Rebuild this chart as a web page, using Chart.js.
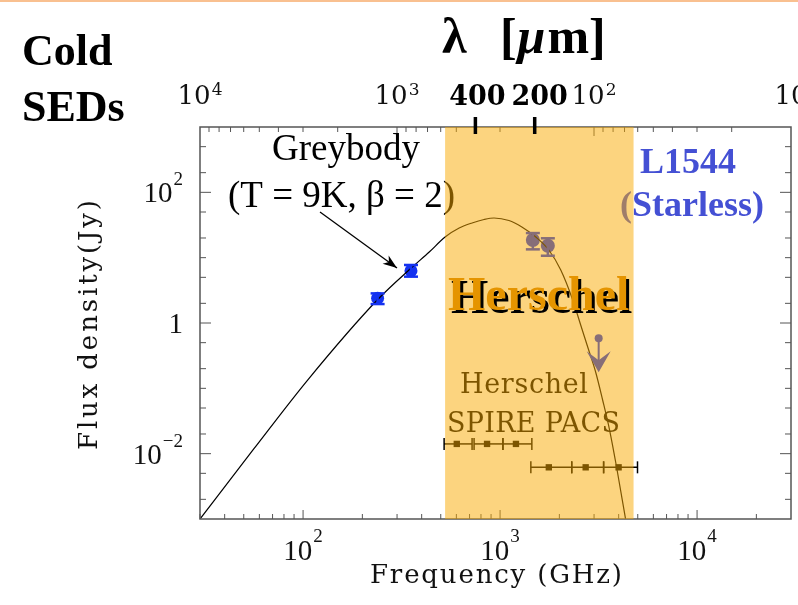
<!DOCTYPE html>
<html>
<head>
<meta charset="utf-8">
<script src="https://cdn.jsdelivr.net/npm/chart.js@4.4.0/dist/chart.umd.min.js"></script>
<style>
  html, body { margin: 0; padding: 0; background: #fff; }
  #wrap { width: 798px; height: 605px; }
</style>
</head>
<body>
<div id="wrap"><canvas id="sed" width="798" height="605"></canvas></div>
<script>
// greybody (T = 9 K, beta = 2)
const curveFreq = [30.0, 56.2, 105.5, 238, 354, 437, 526, 620, 721, 829, 932, 1109, 1290, 1519, 1768, 2033, 2338, 2566, 2817, 3056, 3316, 3597, 3903, 4335, 4560];
const curveFlux = [0.001, 0.0118, 0.134, 2.25, 6.95, 12.2, 20.7, 28.4, 34.0, 38.4, 40.5, 37.0, 29.5, 20.7, 13.1, 6.47, 2.25, 0.931, 0.386, 0.178, 0.0663, 0.023, 0.00625, 0.001, 0.0004];

// L1544 photometry (GHz, Jy)
const groundFreq = [239, 353];
const groundFlux = [2.39, 6.31];
const groundLow = [1.95, 5.12];
const groundHigh = [2.84, 7.73];

const farIrFreq = [1467, 1748];
const farIrFlux = [18.6, 15.2];
const farIrLow = [13.4, 10.7];
const farIrHigh = [23.8, 19.8];

const limitFreq = [3166];
const limitFlux = [0.583];

// Herschel filters
const spireFreq = [603, 859, 1204];
const spireLow = [520, 738, 1034];
const spireHigh = [721, 1034, 1450];
const spireLevel = 0.0141;

const pacsFreq = [1768, 2720, 3997];
const pacsLow = [1433, 2311, 3355];
const pacsHigh = [2311, 3355, 4985];
const pacsLevel = 0.00618;

const herschelBand = [526, 4760];

// tick labels
const freqLabels = [[100, "2"], [1000, "3"], [10000, "4"]];
const fluxLabels = [[0.01, "\u22122"], [1, ""], [100, "2"]];
const lambdaLabels = [[10000, "4"], [1000, "3"], [100, "2"], [10, ""]];
const lambdaMarks = [400, 200];

const BLUE = "#1432f0";
const BAND = "rgba(250, 170, 0, 0.5)";
const SERIF = '"Liberation Serif"';
const CM = '"DejaVu Serif"';

const pts = (xs, ys) => xs.map((v, i) => ({ x: v, y: Array.isArray(ys) ? ys[i] : ys }));

/*************************************************************
 * Drawing helpers
 *************************************************************/
const line = (ctx, x1, y1, x2, y2) => {
  ctx.beginPath();
  ctx.moveTo(x1, y1);
  ctx.lineTo(x2, y2);
  ctx.stroke();
};

const fitText = (ctx, text, x0, yb, width) => {
  ctx.letterSpacing = "0px";
  const w = ctx.measureText(text).width;
  ctx.letterSpacing = `${(width - w) / (text.length - 1)}px`;
  ctx.fillText(text, x0, yb);
  ctx.letterSpacing = "0px";
};

const drawPower = (ctx, exp, px, py, align, size, supSize, rise, family) => {
  ctx.font = `${size}px ${family}`;
  const text = exp === "" && family === SERIF ? "1" : "10";
  const wb = ctx.measureText(text).width;
  ctx.font = `${supSize}px ${family}`;
  const we = exp ? ctx.measureText(exp).width + 1 : 0;
  const total = wb + we;
  const x0 = align === "center" ? px - total / 2 : align === "right" ? px - total : px;
  ctx.textAlign = "left";
  ctx.font = `${size}px ${family}`;
  ctx.fillText(text, x0, py);
  if (exp) {
    ctx.font = `${supSize}px ${family}`;
    ctx.fillText(exp, x0 + wb + 1, py - rise);
  }
};

/*************************************************************
 * Plugin: frame, ticks, annotations and the Herschel band
 *************************************************************/
const sedPlugin = {
  id: "sed",
  beforeDraw(chart) {
    const ctx = chart.ctx;
    ctx.save();
    ctx.fillStyle = "#fff";
    ctx.fillRect(0, 0, chart.width, chart.height);
    ctx.fillStyle = "#f9c090";
    ctx.fillRect(0, 0, chart.width, 2);
    ctx.restore();
  },
  afterDatasetsDraw(chart) {
    const ctx = chart.ctx;
    const { left, right, top, bottom } = chart.chartArea;
    const xs = chart.scales.x;
    const ys = chart.scales.y;
    const lam = chart.scales.lam;
    ctx.save();

    // frame + ticks
    ctx.strokeStyle = "#555";
    ctx.lineWidth = 1.5;
    ctx.strokeRect(left, top, right - left, bottom - top);
    ctx.lineWidth = 1;
    for (let e = 1; e <= 4; e++) {
      for (let m = 1; m <= 9; m++) {
        const v = m * 10 ** e;
        if (v > xs.min && v < xs.max) {
          const px = xs.getPixelForValue(v);
          line(ctx, px, bottom, px, bottom - (m === 1 ? 9 : 5));
        }
        if (v > lam.min && v < lam.max) {
          const px = lam.getPixelForValue(v);
          line(ctx, px, top, px, top + (m === 1 ? 9 : 5));
        }
      }
    }
    for (let e = -3; e <= 2; e++) {
      [1, 2, 5].forEach((m) => {
        const v = m * 10 ** e;
        if (v <= ys.min * 1.0001 || v >= ys.max) return;
        const py = ys.getPixelForValue(v);
        const len = m === 1 && e % 2 === 0 ? 11 : 6;
        line(ctx, left, py, left + len, py);
        line(ctx, right, py, right - len, py);
      });
    }

    // tick labels
    ctx.fillStyle = "#111";
    freqLabels.forEach(([v, exp]) => {
      drawPower(ctx, exp, xs.getPixelForValue(v), 560, "center", 29, 19, 18, SERIF);
    });
    fluxLabels.forEach(([v, exp]) => {
      const py = ys.getPixelForValue(v);
      drawPower(ctx, exp, 183, py + 10, "right", 29, 19, 17, SERIF);
    });
    lambdaLabels.forEach(([v, exp]) => {
      drawPower(ctx, exp, lam.getPixelForValue(v), 104, "center", 26, 17, 9, CM);
    });

    // axis titles
    ctx.fillStyle = "#111";
    ctx.font = `26px ${CM}`;
    fitText(ctx, "Frequency (GHz)", 370, 583, 252);
    ctx.save();
    ctx.translate(97, 450);
    ctx.rotate(-Math.PI / 2);
    fitText(ctx, "Flux density(Jy)", 0, 0, 250);
    ctx.restore();

    // error bars
    ctx.strokeStyle = BLUE;
    ctx.lineWidth = 2.5;
    const vBars = (fs, lo, hi) =>
      fs.forEach((f, i) => {
        const px = xs.getPixelForValue(f);
        const y1 = ys.getPixelForValue(lo[i]);
        const y2 = ys.getPixelForValue(hi[i]);
        line(ctx, px, y1, px, y2);
        line(ctx, px - 7, y1, px + 7, y1);
        line(ctx, px - 7, y2, px + 7, y2);
      });
    vBars(groundFreq, groundLow, groundHigh);
    vBars(farIrFreq, farIrLow, farIrHigh);

    // upper limit arrow
    ctx.fillStyle = BLUE;
    ctx.lineWidth = 2;
    limitFreq.forEach((f, i) => {
      const px = xs.getPixelForValue(f);
      const py = ys.getPixelForValue(limitFlux[i]);
      line(ctx, px, py, px, py + 26);
      ctx.beginPath();
      ctx.moveTo(px, py + 34);
      ctx.lineTo(px - 12, py + 13);
      ctx.lineTo(px, py + 22);
      ctx.lineTo(px + 12, py + 13);
      ctx.closePath();
      ctx.fill();
    });

    // filter widths
    ctx.strokeStyle = "#000";
    ctx.lineWidth = 1.5;
    const hBars = (lo, hi, level) => {
      const py = ys.getPixelForValue(level);
      lo.forEach((f, i) => {
        const x1 = xs.getPixelForValue(f);
        const x2 = xs.getPixelForValue(hi[i]);
        line(ctx, x1, py, x2, py);
        line(ctx, x1, py - 6, x1, py + 6);
        line(ctx, x2, py - 6, x2, py + 6);
      });
    };
    hBars(spireLow, spireHigh, spireLevel);
    hBars(pacsLow, pacsHigh, pacsLevel);

    // annotations below the band
    ctx.fillStyle = "#000";
    ctx.font = `37px ${SERIF}`;
    ctx.fillText("Greybody", 272, 160);
    ctx.fillText("(T = 9K, \u03b2 = 2)", 228, 207);
    ctx.strokeStyle = "#000";
    ctx.lineWidth = 1.2;
    const tip = [397, 268];
    line(ctx, 320, 212, tip[0], tip[1]);
    const ang = Math.atan2(268 - 212, 397 - 320);
    ctx.beginPath();
    ctx.moveTo(tip[0], tip[1]);
    ctx.lineTo(tip[0] - 15 * Math.cos(ang - 0.35), tip[1] - 15 * Math.sin(ang - 0.35));
    ctx.lineTo(tip[0] - 10 * Math.cos(ang), tip[1] - 10 * Math.sin(ang));
    ctx.lineTo(tip[0] - 15 * Math.cos(ang + 0.35), tip[1] - 15 * Math.sin(ang + 0.35));
    ctx.closePath();
    ctx.fill();

    ctx.fillStyle = "#4450d4";
    ctx.font = `bold 36px ${SERIF}`;
    ctx.fillText("L1544", 640, 173);
    ctx.fillText("(Starless)", 620, 216);

    ctx.fillStyle = "#000";
    ctx.font = `27px ${CM}`;
    fitText(ctx, "Herschel", 460, 393, 128);
    fitText(ctx, "SPIRE PACS", 447, 432, 173);

    // Herschel band overlay
    const bx1 = xs.getPixelForValue(herschelBand[0]);
    const bx2 = xs.getPixelForValue(herschelBand[1]);
    ctx.fillStyle = BAND;
    ctx.fillRect(bx1, top, bx2 - bx1, bottom - top);

    ctx.font = `bold 48px ${SERIF}`;
    ctx.fillStyle = "#000";
    ctx.fillText("Herschel", 451, 313);
    ctx.fillStyle = "#e59400";
    ctx.fillText("Herschel", 448, 310);

    // wavelength markers
    ctx.strokeStyle = "#000";
    ctx.lineWidth = 3.5;
    ctx.fillStyle = "#000";
    ctx.font = `bold 27px ${CM}`;
    ctx.textAlign = "center";
    lambdaMarks.forEach((v, i) => {
      const px = lam.getPixelForValue(v);
      line(ctx, px, top - 10, px, top + 7);
      ctx.fillText(String(v), px + 2 + 3 * i, 105);
    });
    ctx.textAlign = "left";

    // titles
    ctx.font = `bold 44px ${SERIF}`;
    ctx.fillText("Cold", 22, 65);
    ctx.fillText("SEDs", 22, 121);
    ctx.font = `bold 50px ${SERIF}`;
    ctx.fillText("\u03bb", 442, 53);
    ctx.fillText("[", 500, 53);
    const wb = ctx.measureText("[").width;
    ctx.font = `italic bold 50px ${SERIF}`;
    ctx.fillText("\u00b5", 500 + wb, 53);
    const wm = ctx.measureText("\u00b5").width;
    ctx.font = `bold 50px ${SERIF}`;
    ctx.fillText("m]", 500 + wb + wm + 2, 53);

    ctx.restore();
  },
};

/*************************************************************
 * Chart
 *************************************************************/
new Chart(document.getElementById("sed"), {
  type: "scatter",
  data: {
    datasets: [
      {
        type: "line",
        data: pts(curveFreq, curveFlux),
        borderColor: "#000",
        borderWidth: 1.2,
        pointRadius: 0,
        cubicInterpolationMode: "monotone",
      },
      { data: pts(groundFreq, groundFlux), pointRadius: 6.5, backgroundColor: BLUE, borderWidth: 0 },
      { data: pts(farIrFreq, farIrFlux), pointRadius: 7, backgroundColor: BLUE, borderWidth: 0 },
      { data: pts(limitFreq, limitFlux), pointRadius: 4, backgroundColor: BLUE, borderWidth: 0 },
      { data: pts(spireFreq, spireLevel), pointStyle: "rect", pointRadius: 4.5, backgroundColor: "#000", borderWidth: 0 },
      { data: pts(pacsFreq, pacsLevel), pointStyle: "rect", pointRadius: 4.5, backgroundColor: "#000", borderWidth: 0 },
    ],
  },
  options: {
    responsive: false,
    animation: false,
    events: [],
    layout: { padding: { left: 200, top: 127, right: 5, bottom: 86 } },
    plugins: { legend: { display: false }, tooltip: { enabled: false } },
    scales: {
      x: { type: "logarithmic", min: 29.98, max: 29980, bounds: "data", display: false },
      y: { type: "logarithmic", min: 0.001, max: 1000, bounds: "data", display: false },
      lam: { type: "logarithmic", axis: "x", position: "top", min: 10, max: 10000, reverse: true, bounds: "data", display: false },
    },
  },
  plugins: [sedPlugin],
});
</script>
</body>
</html>
